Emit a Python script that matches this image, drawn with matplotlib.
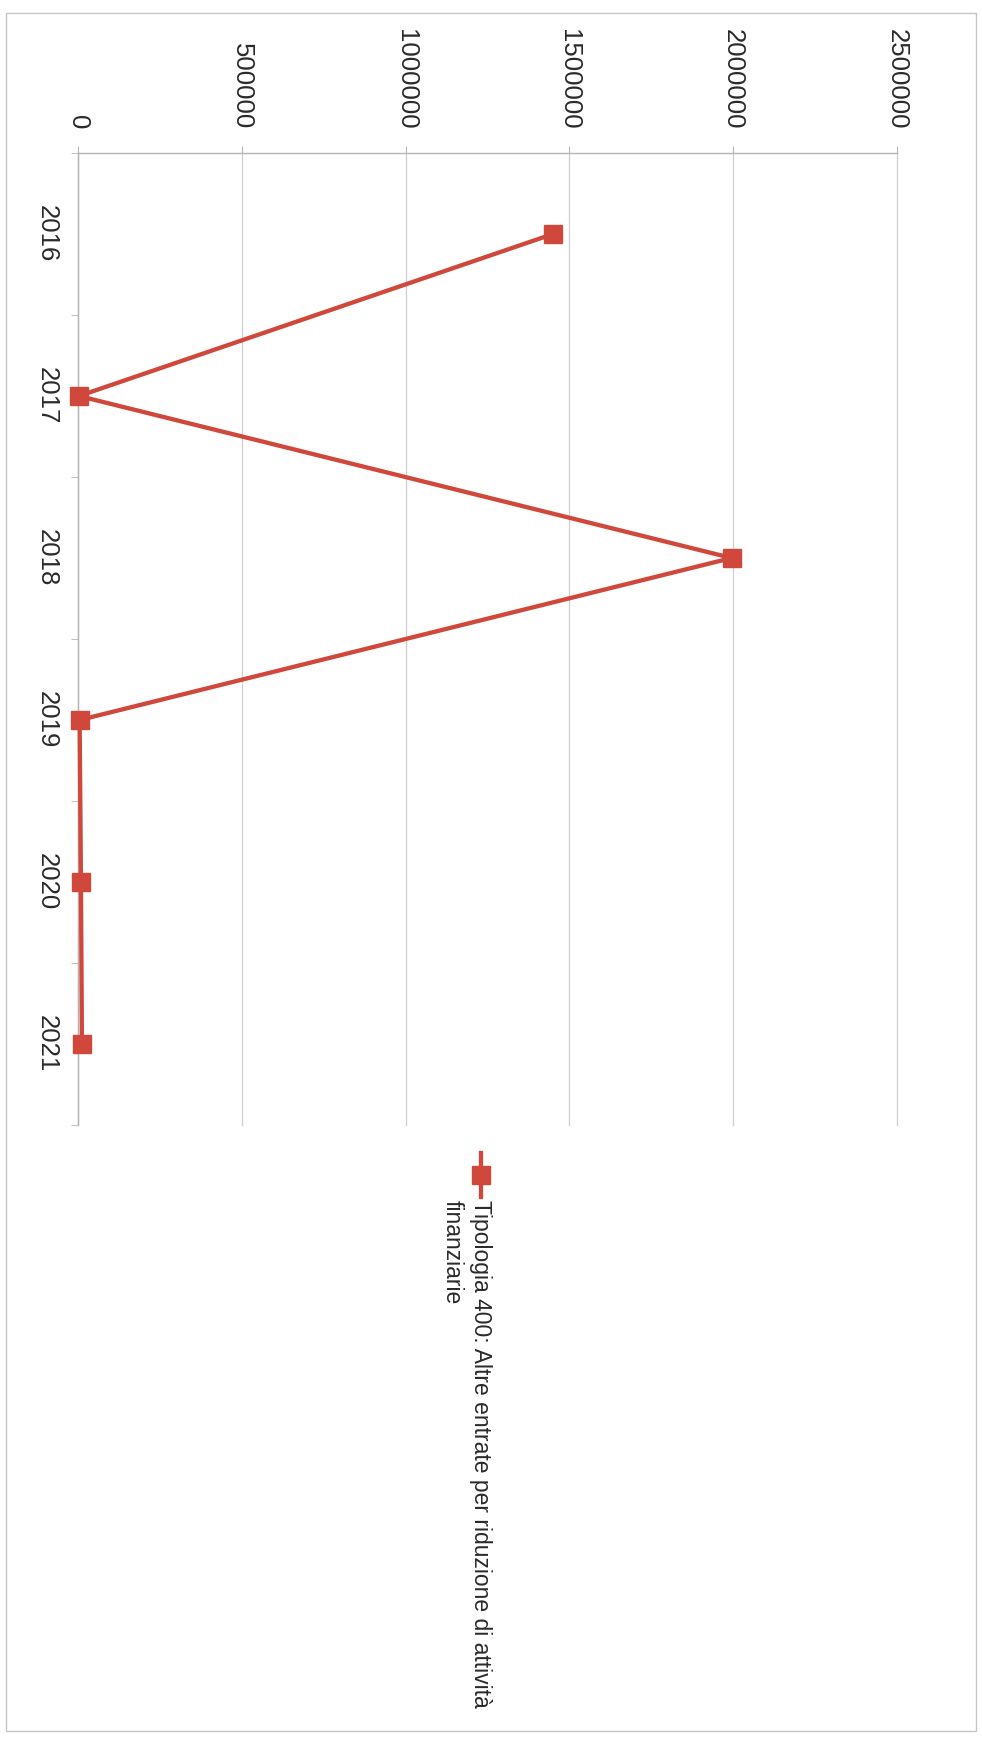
import numpy as np
import matplotlib.pyplot as plt
from matplotlib.lines import Line2D
from matplotlib.patches import Rectangle

# grafico ruotato di 90 gradi (come nella scansione)
anni = ['2016', '2017', '2018', '2019', '2020', '2021']
valori = [1450000, 3000, 1995000, 5000, 9000, 12000]
tick_valori = [0, 500000, 1000000, 1500000, 2000000, 2500000]
serie = 'Tipologia 400: Altre entrate per riduzione di attività\nfinanziarie'

rosso = '#d0483c'
grigio = '#b4b4b4'
testo = '#2a2a2a'
plt.rcParams['font.family'] = ['Liberation Sans', 'DejaVu Sans']

W, H = 982, 1739
fig = plt.figure(figsize=(W / 100, H / 100), dpi=100)
fig.patch.set_facecolor('white')

# cornice esterna
fig.add_artist(Rectangle((6 / W, 1 - 1731 / H), 970 / W, 1718 / H, transform=fig.transFigure,
                         fill=False, edgecolor='#c4c4c4', lw=1.0))

ax = fig.add_axes([78 / W, 1 - 1125 / H, (897 - 78) / W, (1125 - 153) / H])
ax.plot(valori, range(len(anni)), color=rosso, lw=3.1, marker='s', ms=12.5, clip_on=False, zorder=5)

ax.set_xlim(0, 2500000)
ax.set_ylim(len(anni) - 0.5, -0.5)
ax.xaxis.tick_top()
ax.set_xticks(tick_valori)
ax.set_xticklabels([str(v) for v in tick_valori], rotation=-90)
ax.tick_params(axis='x', length=5, color=grigio, pad=12, labelsize=18.5, labelcolor=testo)
ax.grid(axis='x', color='#cfcfcf', lw=0.9)
for gl in ax.get_xgridlines():
    gl.set_clip_on(False)

ax.set_yticks(range(len(anni)))
ax.set_yticklabels(anni, rotation=-90, va='center')
ax.set_yticks(np.arange(-0.5, len(anni), 1), minor=True)
ax.tick_params(axis='y', which='major', length=0, pad=14, labelsize=18.5, labelcolor=testo)
ax.tick_params(axis='y', which='minor', length=5, color=grigio)

for s in ['right', 'bottom']:
    ax.spines[s].set_visible(False)
for s in ['top', 'left']:
    ax.spines[s].set_color(grigio)
    ax.spines[s].set_linewidth(1.0)

# legenda disegnata a mano (ruotata)
lx = 481 / W
fig.add_artist(Line2D([lx, lx], [1 - 1153 / H, 1 - 1197 / H], transform=fig.transFigure,
                      color=rosso, lw=3.1))
fig.add_artist(Line2D([lx], [1 - 1175 / H], transform=fig.transFigure,
                      color=rosso, marker='s', ms=12.5, lw=0))
fig.text(492 / W, 1 - 1200 / H, serie, rotation=-90, rotation_mode='anchor',
         ha='left', va='top', fontsize=16.5, color=testo, linespacing=1.3)

fig.savefig('out.png', dpi=100)
